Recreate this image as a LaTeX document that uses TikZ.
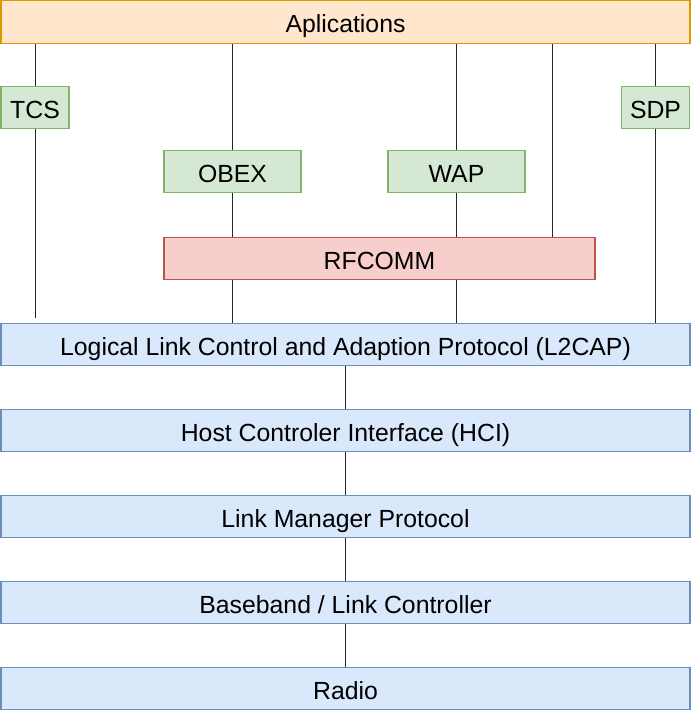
\documentclass[tikz,border=0pt]{standalone}
\usepackage{fontspec}
\setmainfont{Liberation Sans}
\definecolor{gfill}{HTML}{D5E8D4}\definecolor{gline}{HTML}{82B366}
\definecolor{ofill}{HTML}{FFE6CC}\definecolor{oline}{HTML}{D79B00}
\definecolor{rfill}{HTML}{F8CECC}\definecolor{rline}{HTML}{B85450}
\definecolor{bfill}{HTML}{DAE8FC}\definecolor{bline}{HTML}{6C8EBF}
\begin{document}
\begin{tikzpicture}[x=1pt,y=-1pt,
  boxbase/.style={rectangle,inner sep=0pt,line width=1.1pt,font=\fontsize{24.8}{28}\selectfont,minimum height=42.5pt,text height=22pt,text depth=0pt},
  appbox/.style={boxbase,draw=oline,fill=ofill},
  protobox/.style={boxbase,draw=gline,fill=gfill},
  rfbox/.style={boxbase,draw=rline,fill=rfill},
  layerbox/.style={boxbase,draw=bline,fill=bfill,minimum width=689pt},
  link/.style={line width=1pt,black!85}]
\useasboundingbox (0,0) rectangle (691,711);
\node[appbox,minimum width=689pt] (app) at (345.5,22) {Aplications};
\node[protobox,minimum width=68pt] (tcs) at (35,107.5) {TCS};
\node[protobox,minimum width=68pt] (sdp) at (655.5,107.5) {SDP};
\node[protobox,minimum width=137pt] (obex) at (232.5,171.5) {OBEX};
\node[protobox,minimum width=137pt] (wap) at (456.5,171.5) {WAP};
\node[rfbox,minimum width=431pt] (rf) at (379.5,258.5) {RFCOMM};
\node[layerbox] (l2cap) at (345.5,344.5) {Logical Link Control and Adaption Protocol (L2CAP)};
\node[layerbox] (hci) at (345.5,430.5) {Host Controler Interface (HCI)};
\node[layerbox] (lmp) at (345.5,516.5) {Link Manager Protocol};
\node[layerbox] (bb) at (345.5,602.5) {Baseband / Link Controller};
\node[layerbox] (radio) at (345.5,688.5) {Radio};
\coordinate (tcsend) at (35,318);
\coordinate (x552) at (552,258);
% TCS
\draw[link] (app.south -| tcs) -- (tcs.north);
\draw[link] (tcs.south) -- (tcsend);
% OBEX
\draw[link] (app.south -| obex) -- (obex.north);
\draw[link] (obex.south) -- (rf.north -| obex);
\draw[link] (rf.south -| obex) -- (l2cap.north -| obex);
% WAP
\draw[link] (app.south -| wap) -- (wap.north);
\draw[link] (wap.south) -- (rf.north -| wap);
\draw[link] (rf.south -| wap) -- (l2cap.north -| wap);
% direct to RFCOMM
\draw[link] (app.south -| x552) -- (rf.north -| x552);
% SDP
\draw[link] (app.south -| sdp) -- (sdp.north);
\draw[link] (sdp.south) -- (l2cap.north -| sdp);
% stack
\draw[link] (l2cap.south) -- (hci.north);
\draw[link] (hci.south) -- (lmp.north);
\draw[link] (lmp.south) -- (bb.north);
\draw[link] (bb.south) -- (radio.north);
\end{tikzpicture}
\end{document}
